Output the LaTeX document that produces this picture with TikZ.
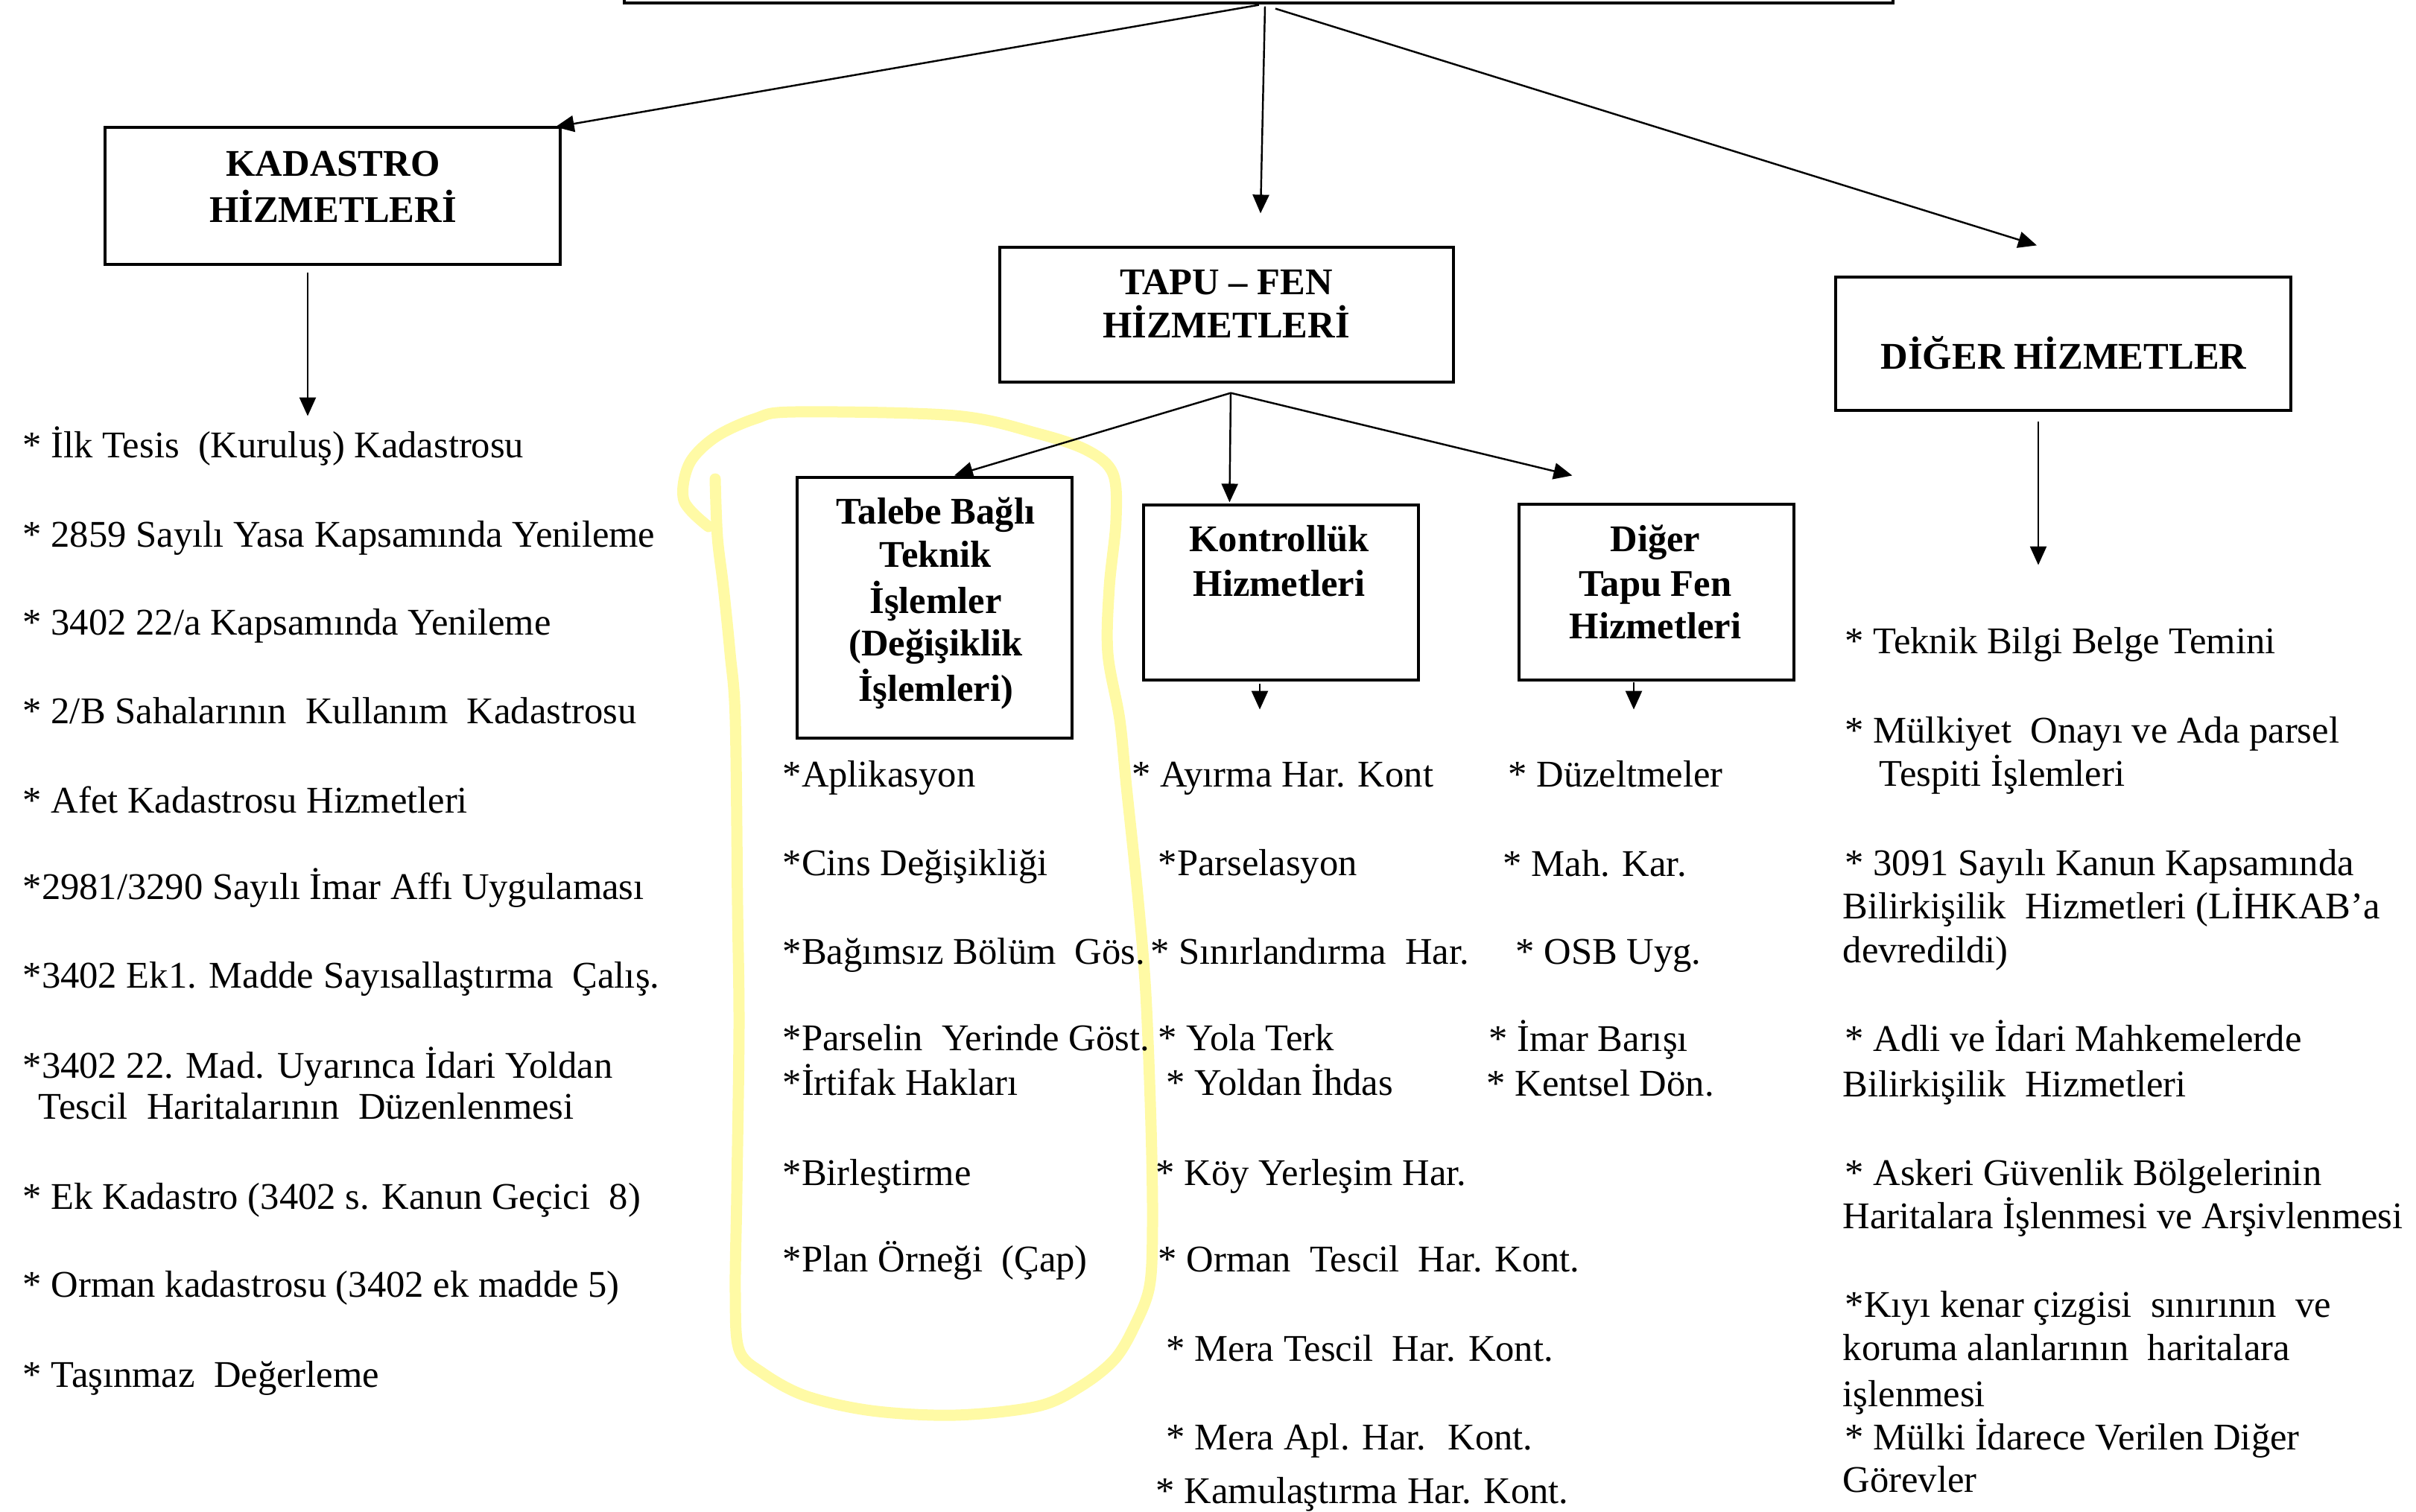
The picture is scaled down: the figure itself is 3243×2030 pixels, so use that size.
\documentclass[tikz,border=0pt]{standalone}
\usepackage{fontspec}
\setmainfont{Liberation Serif}
\usetikzlibrary{arrows.meta,calc}
\definecolor{hl}{RGB}{255,250,165}
\newcommand{\itmfont}{\fontsize{14.4}{16.5}\selectfont}
\newcommand{\ttlfont}{\fontsize{14.4}{17}\selectfont\bfseries}
\begin{document}
\begin{tikzpicture}[x=0.1mm,y=-0.1mm,
  box/.style={draw, line width=0.9pt, inner sep=0pt},
  arr/.style={-{Triangle[length=2.5mm,width=2.2mm]}, line width=0.7pt},
  itm/.style={anchor=base west, inner sep=0pt, font=\itmfont},
  ttl/.style={anchor=base, inner sep=0pt, font=\ttlfont},
  loop/.style={draw=hl, line width=1.5mm, line cap=round, line join=round}]
\useasboundingbox (0,0) rectangle (3243,2030);
\clip (0,0) rectangle (3243,2030);

% highlight loop
\draw[loop] plot[smooth, tension=0.55] coordinates {
 (951,707) (918,672) (925,623) (960,587) (1014,562) (1067,553) (1282,558)
 (1393,582) (1460,605) (1494,636) (1498,699) (1489,788) (1487,877) (1503,966)
 (1512,1056) (1527,1200) (1538,1334) (1545,1512) (1547,1646) (1543,1727)
 (1523,1780) (1496,1825) (1451,1861) (1393,1888) (1282,1900) (1170,1894)
 (1081,1874) (1023,1843) (992,1812) (987,1736) (989,1602) (992,1379)
 (990,1216) (987,966) (980,877) (971,788) (963,721) (960,643)};

% boxes
\node[box, minimum width=170.3mm, minimum height=10mm] (top) at (1689.5,-46) {};
\node[box, minimum width=61.1mm, minimum height=18.4mm] (kad) at (446.5,263) {};
\node[box, minimum width=60.9mm, minimum height=18.1mm] (tapu) at (1646.5,422.5) {};
\node[box, minimum width=61.1mm, minimum height=17.9mm] (diger) at (2769.5,461.5) {};
\node[box, minimum width=36.9mm, minimum height=35mm] (talebe) at (1254.5,816) {};
\node[box, minimum width=36.9mm, minimum height=23.5mm] (kontrol) at (1719.5,795.5) {};
\node[box, minimum width=36.9mm, minimum height=23.6mm] (dtapu) at (2223.5,795) {};

% box titles
\node[ttl] (kadt1) at (447,236) {KADASTRO};
\node[ttl] (kadt2) at (447,298) {HİZMETLERİ};
\node[ttl] (tapt1) at (1646,395) {TAPU – FEN};
\node[ttl] (tapt2) at (1646,453) {HİZMETLERİ};
\node[ttl] (digt1) at (2770,495) {DİĞER HİZMETLER};
\node[ttl] (talt1) at (1256,703) {Talebe Bağlı};
\node[ttl] (talt2) at (1256,761) {Teknik};
\node[ttl] (talt3) at (1256,823) {İşlemler};
\node[ttl] (talt4) at (1256,880) {(Değişiklik};
\node[ttl] (talt5) at (1256,941) {İşlemleri)};
\node[ttl] (kont1) at (1717,740) {Kontrollük};
\node[ttl] (kont2) at (1717,800) {Hizmetleri};
\node[ttl] (dtt1) at (2222,740) {Diğer};
\node[ttl] (dtt2) at (2222,800) {Tapu Fen};
\node[ttl] (dtt3) at (2222,857) {Hizmetleri};

% connectors
\draw[arr] ($(top.south)+(0.5,1)$) -- ($(kad.north east)+(-8,1)$);
\draw[arr] ($(top.south)+(8.5,3)$) -- ($(tapu.north)+(45.5,-44)$);
\draw[arr] ($(top.south)+(22.5,6)$) -- ($(diger.north)+(-35.5,-41)$);
\draw[arr] ($(kad.south)+(-33.5,9)$) -- ($(kad.south)+(-33.5,202)$);
\draw[arr] ($(diger.south)+(-33.5,13)$) -- ($(diger.south)+(-33.5,206)$);
\coordinate (ts) at ($(tapu.south)+(5.5,13)$);
\draw[arr] (ts) -- ($(talebe.north)+(26.5,-1)$);
\draw[arr] (ts) -- ($(kontrol.north west)+(117,-2)$);
\draw[arr] (ts) -- ($(dtapu.north west)+(73,-37)$);
\draw[arr] ($(kontrol.south)+(-28.5,3)$) -- ($(kontrol.south)+(-28.5,38)$);
\draw[arr] ($(dtapu.south)+(-30.5,1)$) -- ($(dtapu.south)+(-30.5,38)$);

% Kadastro list
\node[itm] (k1) at (30,614) {* İlk Tesis~ (Kuruluş) Kadastrosu};
\node[itm] (k2) at (30,734) {* 2859 Sayılı Yasa Kapsamında Yenileme};
\node[itm] (k3) at (30,852) {* 3402 22/a Kapsamında Yenileme};
\node[itm] (k4) at (30,971) {* 2/B Sahalarının~ Kullanım~ Kadastrosu};
\node[itm] (k5) at (30,1091) {* Afet Kadastrosu Hizmetleri};
\node[itm] (k6) at (30,1207) {*2981/3290 Sayılı İmar Affı Uygulaması};
\node[itm] (k7) at (30,1326) {*3402 Ek1. Madde Sayısallaştırma~ Çalış.};
\node[itm] (k8) at (30,1447) {*3402 22. Mad. Uyarınca İdari Yoldan};
\node[itm] (k9) at (51,1502) {Tescil~ Haritalarının~ Düzenlenmesi};
\node[itm] (k10) at (30,1623) {* Ek Kadastro (3402 s. Kanun Geçici~ 8)};
\node[itm] (k11) at (30,1741) {* Orman kadastrosu (3402 ek madde 5)};
\node[itm] (k12) at (30,1862) {* Taşınmaz~ Değerleme};

% Talebe list
\node[itm] (t1) at (1050,1056) {*Aplikasyon};
\node[itm] (t2) at (1050,1175) {*Cins Değişikliği};
\node[itm] (t3) at (1050,1294) {*Bağımsız Bölüm~ Gös.};
\node[itm] (t4) at (1050,1410) {*Parselin~ Yerinde Göst.};
\node[itm] (t5) at (1050,1470) {*İrtifak Hakları};
\node[itm] (t6) at (1050,1591) {*Birleştirme};
\node[itm] (t7) at (1050,1707) {*Plan Örneği~ (Çap)};

% Kontrolluk list
\node[itm] (c1) at (1519,1056) {* Ayırma Har. Kont};
\node[itm] (c2) at (1554,1175) {*Parselasyon};
\node[itm] (c3) at (1544,1294) {* Sınırlandırma~ Har.};
\node[itm] (c4) at (1554,1410) {* Yola Terk};
\node[itm] (c5) at (1565,1470) {* Yoldan İhdas};
\node[itm] (c6) at (1551,1591) {* Köy Yerleşim Har.};
\node[itm] (c7) at (1554,1707) {* Orman~ Tescil~ Har. Kont.};
\node[itm] (c8) at (1565,1827) {* Mera Tescil~ Har. Kont.};
\node[itm] (c9) at (1565,1946) {* Mera Apl. Har.~ Kont.};
\node[itm] (c10) at (1551,2018) {* Kamulaştırma Har. Kont.};

% Diger Tapu Fen list
\node[itm] (d1) at (2024,1056) {* Düzeltmeler};
\node[itm] (d2) at (2017,1176) {* Mah. Kar.};
\node[itm] (d3) at (2034,1294) {* OSB Uyg.};
\node[itm] (d4) at (1998,1411) {* İmar Barışı};
\node[itm] (d5) at (1995,1471) {* Kentsel Dön.};

% Diger Hizmetler list
\node[itm] (r1) at (2476,877) {* Teknik Bilgi Belge Temini};
\node[itm] (r2) at (2476,997) {* Mülkiyet~ Onayı ve Ada parsel};
\node[itm] (r3) at (2522,1055) {Tespiti İşlemleri};
\node[itm] (r4) at (2476,1175) {* 3091 Sayılı Kanun Kapsamında};
\node[itm] (r5) at (2473,1233) {Bilirkişilik~ Hizmetleri (LİHKAB’a};
\node[itm] (r6) at (2473,1292) {devredildi)};
\node[itm] (r7) at (2476,1411) {* Adli ve İdari Mahkemelerde};
\node[itm] (r8) at (2473,1472) {Bilirkişilik~ Hizmetleri};
\node[itm] (r9) at (2476,1591) {* Askeri Güvenlik Bölgelerinin};
\node[itm] (r10) at (2473,1649) {Haritalara İşlenmesi ve Arşivlenmesi};
\node[itm] (r11) at (2476,1768) {*Kıyı kenar çizgisi~ sınırının~ ve};
\node[itm] (r12) at (2473,1826) {koruma alanlarının~ haritalara};
\node[itm] (r13) at (2473,1888) {işlenmesi};
\node[itm] (r14) at (2476,1946) {* Mülki İdarece Verilen Diğer};
\node[itm] (r15) at (2473,2003) {Görevler};
\end{tikzpicture}
\end{document}
